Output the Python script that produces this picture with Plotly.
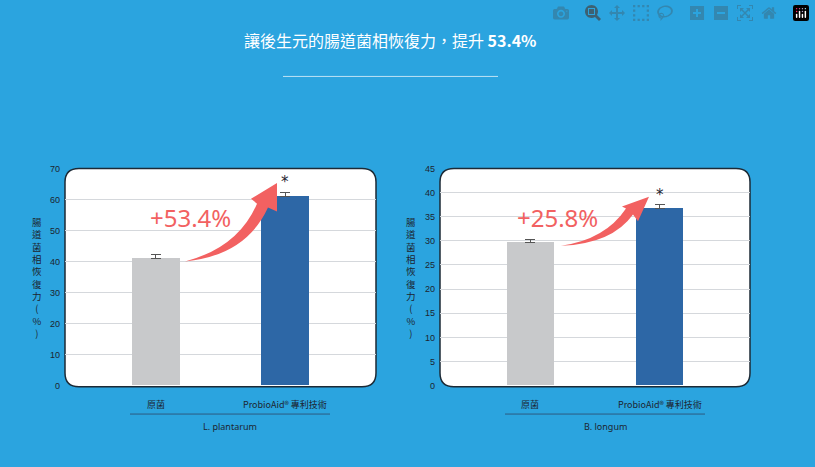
import plotly.graph_objects as go

W, H = 815, 467
categories = ["原菌", "ProbioAid® 專利技術"]
lp_values = [41.0, 61.0]
lp_err = [1.2, 1.3]
bl_values = [29.7, 36.7]
bl_err = [0.6, 0.8]
colors = ["#c8c9cb", "#2d67a6"]
ytitle = "腸<br>道<br>菌<br>相<br>恢<br>復<br>力<br>(<br>%<br>)"

def px(x): return x / W
def py(y): return 1 - y / H
def P(x, y): return f"{px(x):.5f},{py(y):.5f}"

fig = go.Figure()
for vals, err, xa, ya in [(lp_values, lp_err, "x", "y"), (bl_values, bl_err, "x2", "y2")]:
    fig.add_trace(go.Bar(x=[0, 1], y=vals, marker=dict(color=colors, line=dict(width=0)),
                         width=0.37, xaxis=xa, yaxis=ya, showlegend=False,
                         error_y=dict(type="data", array=err, arrayminus=[0, 0],
                                      color="#555", thickness=1, width=5)))

d1 = [65/W, 376/W]; d2 = [440/W, 750/W]
yd = [py(389), py(167)]
ax = dict(range=[-0.7, 1.7], showticklabels=False, showgrid=False, zeroline=False, fixedrange=True)
fig.update_layout(
    width=W, height=H, margin=dict(l=0, r=0, t=0, b=0),
    paper_bgcolor="#2ba4df", plot_bgcolor="rgba(0,0,0,0)",
    font=dict(family="Noto Sans CJK TC, Noto Sans", color="#1d2530"),
    xaxis=dict(domain=d1, anchor="y", **ax),
    xaxis2=dict(domain=d2, anchor="y2", **ax),
    yaxis=dict(domain=yd, range=[0, 70], dtick=10, gridcolor="#d5d8dc", zeroline=False,
               tickfont=dict(size=9, family="Liberation Sans"), ticks="", ticklabelstandoff=4),
    yaxis2=dict(domain=yd, anchor="x2", range=[0, 45], dtick=5, gridcolor="#d5d8dc", zeroline=False,
                tickfont=dict(size=9, family="Liberation Sans"), ticks="", ticklabelstandoff=4),
    bargap=0,
)

def rbox(x0, y0, x1, y1, r=14):
    return (f"M {P(x0+r,y0)} L {P(x1-r,y0)} Q {P(x1,y0)} {P(x1,y0+r)} L {P(x1,y1-r)} "
            f"Q {P(x1,y1)} {P(x1-r,y1)} L {P(x0+r,y1)} Q {P(x0,y1)} {P(x0,y1-r)} "
            f"L {P(x0,y0+r)} Q {P(x0,y0)} {P(x0+r,y0)} Z")

shapes = []
for x0, x1 in [(65, 376), (440, 750)]:
    shapes.append(dict(type="path", xref="paper", yref="paper", path=rbox(x0, 167, x1, 390),
                       fillcolor="white", line=dict(color="#1c2a36", width=1.5), layer="below"))

def arrow(tail, c1, pu, w1, tip, w2, pl, c2):
    return (f"M {P(*tail)} Q {P(*c1)} {P(*pu)} L {P(*w1)} L {P(*tip)} L {P(*w2)} "
            f"L {P(*pl)} Q {P(*c2)} {P(*tail)} Z")

red = "#f26161"
shapes.append(dict(type="path", xref="paper", yref="paper", fillcolor=red, line=dict(width=0),
                   path=arrow((185, 262), (238, 248), (257, 203), (251, 198), (277, 182),
                              (277, 211), (268, 207), (246, 256))))
shapes.append(dict(type="path", xref="paper", yref="paper", fillcolor=red, line=dict(width=0),
                   path=arrow((561, 246), (605, 240), (626, 208), (622, 206), (649, 196),
                              (638, 221), (633, 214), (612, 244))))
shapes.append(dict(type="line", xref="paper", yref="paper", x0=px(283), x1=px(498), y0=py(73), y1=py(73),
                   line=dict(color="#bfe3f5", width=1)))
for x0, x1 in [(130, 330), (505, 705)]:
    shapes.append(dict(type="line", xref="paper", yref="paper", x0=px(x0), x1=px(x1), y0=py(418), y1=py(418),
                       line=dict(color="#2d5a80", width=1)))
fig.update_layout(shapes=shapes)

ann = [dict(x=px(390), y=py(36), text="讓後生元的腸道菌相恢復力，提升 <b>53.4%</b>",
            font=dict(size=16, color="white"))]
for xa, ya, vals, err, lab, gl, yx, ptxt, pxy in [
        ("x", "y", lp_values, lp_err, "L. plantarum", 230, 37, "+53.4%", (190, 217)),
        ("x2", "y2", bl_values, bl_err, "B. longum", 605, 411, "+25.8%", (557, 217))]:
    for i, c in enumerate(categories):
        ann.append(dict(x=i, y=0, xref=xa, yref=ya, yshift=-19, text=c, font=dict(size=9)))
    ann.append(dict(x=1, y=vals[1] + err[1], xref=xa, yref=ya, yshift=10, text="*",
                    font=dict(size=15, family="DejaVu Sans")))
    ann.append(dict(x=px(gl), y=py(431), text=lab, font=dict(size=9, family="Noto Sans")))
    ann.append(dict(x=px(yx), y=py(278), text=ytitle, font=dict(size=9.5, color="#1d2530"),
                    align="center"))
    ann.append(dict(x=px(pxy[0]), y=py(pxy[1]), text=ptxt, font=dict(size=24, color=red, family="Noto Sans")))
for a in ann:
    a.setdefault("xref", "paper"); a.setdefault("yref", "paper"); a["showarrow"] = False
    a["xanchor"] = "center"; a["yanchor"] = "middle"
fig.update_layout(annotations=ann)
fig.write_html("out.html")
with open("out.html", encoding="utf-8") as f:
    html = f.read()
html = html.replace("<body>", "<body style=\"margin:0\">", 1)
with open("out.html", "w", encoding="utf-8") as f:
    f.write(html)
